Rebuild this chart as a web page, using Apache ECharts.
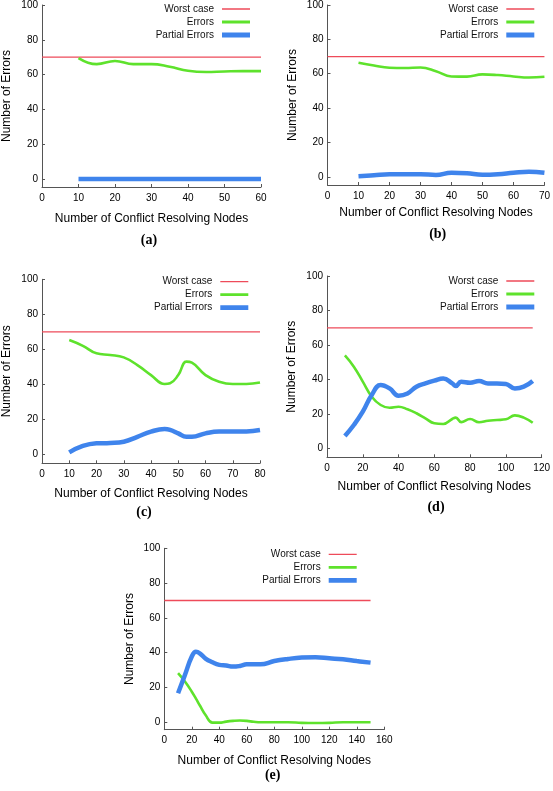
<!DOCTYPE html>
<html>
<head>
<meta charset="utf-8">
<script src="https://cdn.jsdelivr.net/npm/echarts@6/dist/echarts.min.js"></script>
<style>
html,body{margin:0;padding:0;background:#fff;}
#chart{width:553px;height:791px;}
</style>
</head>
<body>
<div id="chart"></div>
<script>
// ---- Data ----
const seriesNames = ['Worst case', 'Errors', 'Partial Errors'];
const panelLabels = ['(a)', '(b)', '(c)', '(d)', '(e)'];
const yTickValues = [0, 20, 40, 60, 80, 100];

// Panel (a)
const worstXA = [0, 60];
const worstA = [70, 70];
const nodesA = [10, 15, 20, 25, 30, 35, 40, 45, 50, 55, 60];
const errorsA = [69.5, 66, 67.8, 66, 66, 64.5, 62.2, 61.5, 61.8, 62, 62];
const partialA = [0, 0, 0, 0, 0, 0, 0, 0, 0, 0, 0];

// Panel (b)
const worstXB = [0, 70];
const worstB = [70, 70];
const nodesB = [10, 15, 20, 25, 30, 35, 40, 45, 50, 55, 60, 65, 70];
const errorsB = [66.4, 64.8, 63.5, 63.3, 63.6, 61.5, 58.4, 58.3, 59.6, 59.2, 58.4, 57.8, 58.2];
const partialB = [0.3, 0.9, 1.5, 1.5, 1.5, 1, 2.3, 2, 1.2, 1.5, 2.3, 2.9, 2.3];

// Panel (c)
const worstXC = [0, 80];
const worstC = [70, 70];
const nodesC = [10, 15, 20, 25, 30, 35, 40, 45, 47, 50, 53, 55, 60, 65, 70, 75, 80];
const errorsC = [65.3, 62, 57.7, 56.8, 55.4, 51, 45.3, 40.2, 40.6, 45.3, 53, 52.4, 45.3, 41.5, 40.2, 40.2, 41];
const partialC = [1.1, 4.8, 6.3, 6.5, 7.2, 10, 13, 14.5, 14, 12, 10, 10, 12, 13, 13, 13.1, 13.9];

// Panel (d)
const worstXD = [0, 115];
const worstD = [70, 70];
const nodesD = [10, 15, 20, 25, 30, 35, 40, 45, 50, 55, 60, 65, 70, 72, 75, 80, 85, 90, 95, 100, 105, 110, 115];
const errorsD = [54, 47.5, 38.8, 30.1, 25.3, 23.7, 24.3, 22.8, 20.5, 17.6, 14.7, 14.3, 17.2, 18, 15.4, 17.2, 15.3, 16.2, 16.6, 17, 19.3, 18, 15];
const partialD = [7.3, 13.7, 21.4, 31.1, 36.9, 34.9, 30.7, 32, 35.9, 37.8, 39.4, 40.7, 37.8, 36.3, 38.8, 38.2, 39.2, 37.8, 37.8, 37.5, 34.9, 35.9, 39.2];

// Panel (e)
const worstXE = [0, 150];
const worstE = [70, 70];
const nodesE = [10, 15, 20, 23, 26, 30, 35, 40, 45, 50, 55, 60, 65, 70, 80, 90, 100, 110, 120, 130, 140, 150];
const errorsE = [28.2, 23.4, 17.6, 13.6, 9.5, 4.2, -0.2, -0.2, 0.4, 0.8, 1, 0.8, 0.3, 0, 0, 0, -0.3, -0.4, -0.3, 0, 0, 0];
const partialE = [16.7, 27.2, 37.8, 40.5, 39.5, 36.6, 34.5, 33, 32.6, 32, 32.4, 33.3, 33.3, 33.3, 35.2, 36.4, 37.2, 37.4, 36.8, 36.2, 35.2, 34.3];

// ---- Layout / style ----
const panels = [
  {wx: worstXA, w: worstA, x: nodesA, e: errorsA, p: partialA, grid: {left: 40, top: 4, right: 292, bottom: 604}, yMin: -4.6, xMax: 60, xInt: 10, legend: {right: 303, top: 4}, label: [149, 240], xGap: 26, },
  {wx: worstXB, w: worstB, x: nodesB, e: errorsB, p: partialB, grid: {left: 327.5, top: 4.3, right: 8.5, bottom: 606}, yMin: -4.8, xMax: 70, xInt: 10, legend: {right: 18.7, top: 4}, label: [437.7, 234.3], xGap: 21.5},
  {wx: worstXC, w: worstC, x: nodesC, e: errorsC, p: partialC, grid: {left: 40, top: 279.3, right: 293, bottom: 327.7}, yMin: -5.1, xMax: 80, xInt: 10, legend: {right: 304.7, top: 276.7}, label: [144, 512], xGap: 24},
  {wx: worstXD, w: worstD, x: nodesD, e: errorsD, p: partialD, grid: {left: 327, top: 276, right: 6.3, bottom: 333.7}, yMin: -5, xMax: 120, xInt: 20, legend: {right: 18.7, top: 276}, label: [436, 507], xGap: 23},
  {wx: worstXE, w: worstE, x: nodesE, e: errorsE, p: partialE, grid: {left: 164.3, top: 548.3, right: 168.7, bottom: 61.3}, yMin: -4.25, xMax: 160, xInt: 20, legend: {right: 196.3, top: 549.3}, label: [272.7, 775], xGap: 25}
];

const colors = {worst: '#ee4b5a', errors: '#5ee22c', partial: '#3f84ec'};
const FONT = 'Liberation Sans';
const axisColor = '#555';

const legendIcons = {
  'Worst case': 'path://M0,0L28,0M0,4.35H28V5.65H0ZM0,10L28,10',
  'Errors': 'path://M0,0L28,0M0,3.6H28V6.4H0ZM0,10L28,10',
  'Partial Errors': 'path://M0,0L28,0M0,2.6H28V7.4H0ZM0,10L28,10'
};

const grids = [], xAxes = [], yAxes = [], series = [], legends = [], graphics = [];
panels.forEach((pn, i) => {
  grids.push(Object.assign({containLabel: false}, pn.grid));
  xAxes.push({
    type: 'value', gridIndex: i, min: 0, max: pn.xMax, interval: pn.xInt,
    name: 'Number of Conflict Resolving Nodes', nameLocation: 'middle', nameGap: pn.xGap,
    nameTextStyle: {fontFamily: FONT, fontSize: 12, color: '#000'},
    axisLine: {onZero: false, lineStyle: {color: axisColor, width: 1}},
    axisTick: {inside: true, length: 3, lineStyle: {color: axisColor}},
    axisLabel: {fontFamily: FONT, fontSize: 10, color: '#000', margin: 6},
    splitLine: {show: false}
  });
  yAxes.push({
    type: 'value', gridIndex: i, min: pn.yMin, max: 100,
    name: 'Number of Errors', nameLocation: 'middle', nameGap: 29,
    nameTextStyle: {fontFamily: FONT, fontSize: 12, color: '#000'},
    axisLine: {onZero: false, lineStyle: {color: axisColor, width: 1}},
    axisTick: {inside: true, length: 3, customValues: yTickValues, lineStyle: {color: axisColor}},
    axisLabel: {fontFamily: FONT, fontSize: 10, color: '#000', margin: 4, customValues: yTickValues},
    splitLine: {show: false}
  });
  series.push({
    type: 'line', name: seriesNames[0], xAxisIndex: i, yAxisIndex: i,
    data: pn.wx.map((x, k) => [x, pn.w[k]]),
    symbol: 'none', lineStyle: {color: colors.worst, width: 1.3}, itemStyle: {color: colors.worst}, silent: true
  });
  series.push({
    type: 'line', name: seriesNames[1], xAxisIndex: i, yAxisIndex: i,
    data: pn.x.map((x, k) => [x, pn.e[k]]), smooth: 0.45,
    symbol: 'none', lineStyle: {color: colors.errors, width: 2.6}, itemStyle: {color: colors.errors}, silent: true
  });
  series.push({
    type: 'line', name: seriesNames[2], xAxisIndex: i, yAxisIndex: i,
    data: pn.x.map((x, k) => [x, pn.p[k]]), smooth: 0.45,
    symbol: 'none', lineStyle: {color: colors.partial, width: 4.5}, itemStyle: {color: colors.partial}, silent: true
  });
  legends.push({
    orient: 'vertical', align: 'right', right: pn.legend.right, top: pn.legend.top,
    itemWidth: 28, itemHeight: 10, itemGap: 3, padding: 0, selectedMode: false,
    itemStyle: {borderWidth: 0},
    textStyle: {fontFamily: FONT, fontSize: 10, color: '#111', lineHeight: 10, padding: [0, 3, 0, 0]},
    data: seriesNames.map(n => ({name: n, icon: legendIcons[n]}))
  });
  graphics.push({
    type: 'text', x: pn.label[0], y: pn.label[1],
    style: {text: panelLabels[i], font: 'bold 14px "Liberation Serif"', fill: '#000', align: 'center', verticalAlign: 'middle'}
  });
});

const chart = echarts.init(document.getElementById('chart'), null, {renderer: 'canvas'});
chart.setOption({
  backgroundColor: '#fff',
  animation: false,
  grid: grids,
  xAxis: xAxes,
  yAxis: yAxes,
  legend: legends,
  series: series,
  graphic: graphics
});
</script>
</body>
</html>
